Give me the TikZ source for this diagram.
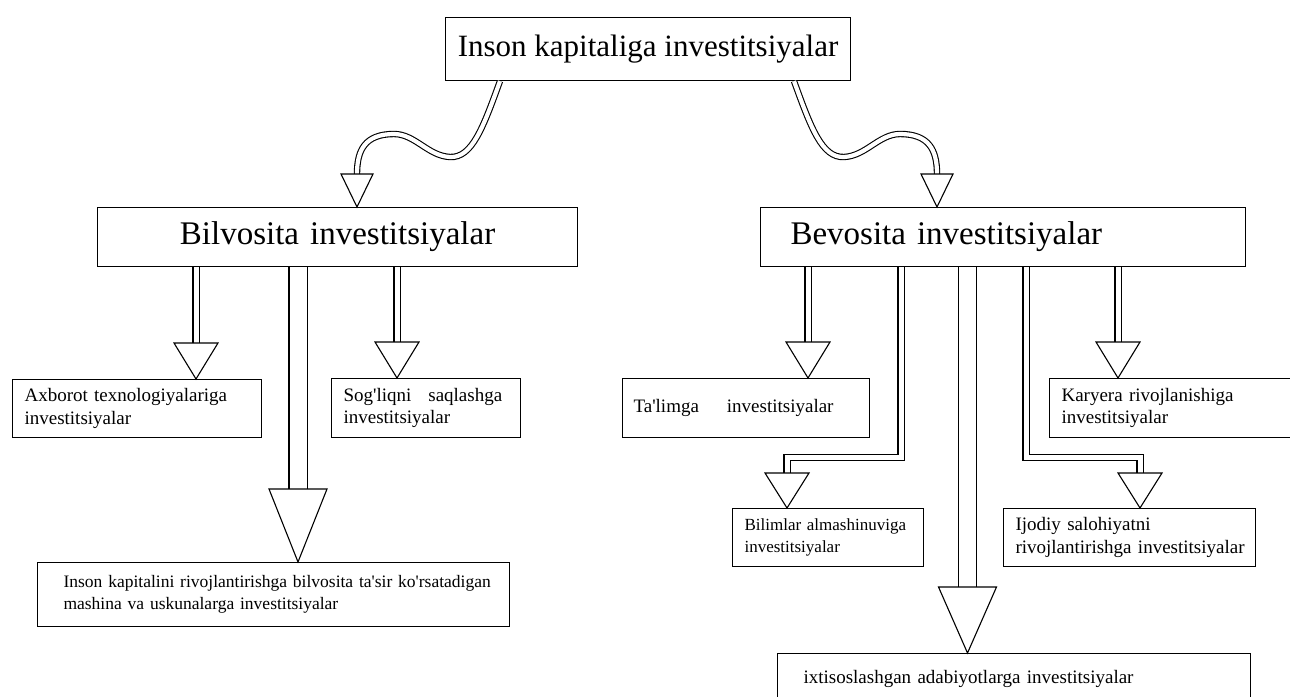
\documentclass[tikz,border=0pt]{standalone}
\usepackage{fontspec}
\setmainfont{Liberation Serif}[Ligatures=TeXOff]
\usetikzlibrary{calc}
\tikzset{
  box/.style={draw=black, line width=1.1pt, anchor=north west, inner ysep=0pt, inner xsep=12pt, align=left, font=\fontsize{19}{22.5}\selectfont},
  dbl/.style={draw=black, line width=1.1pt, double=white, double distance=#1, line join=miter},
  tri/.style={draw=black, fill=white, line width=1.1pt, line join=miter},
}
\newcommand{\head}[3]{\draw[tri] ($(#1)+(-#2,-#3)$) -- ($(#1)+(#2,-#3)$) -- (#1) -- cycle;}
\begin{document}
\begin{tikzpicture}[x=1pt,y=-1pt]
\useasboundingbox (0,0) rectangle (1290,696);
% boxes
\node[box, minimum width=405pt, minimum height=63pt, align=center, font=\fontsize{31}{36}\selectfont] (top) at (445,17) {Inson kapitaliga investitsiyalar};
\node[box, minimum width=480pt, minimum height=59pt, align=center, text width=456pt, font=\fontsize{33}{38}\selectfont] (bil) at (97,207) {Bilvosita investitsiyalar};
\node[box, minimum width=485pt, minimum height=59pt, inner xsep=30pt, text width=425pt, font=\fontsize{33}{38}\selectfont] (bev) at (760,207) {Bevosita investitsiyalar};
\node[box, minimum width=249pt, minimum height=58pt, text width=225pt] (axb) at (12,379) {\mbox{Axborot texnologiyalariga}\\\mbox{investitsiyalar}};
\node[box, minimum width=189pt, minimum height=59pt, text width=165pt] (sog) at (331,378) {\mbox{Sog'liqni\hspace{17pt}saqlashga}\\\mbox{investitsiyalar}};
\node[box, minimum width=472pt, minimum height=64pt, inner xsep=26pt, text width=420pt, font=\fontsize{17.5}{21.5}\selectfont] (mash) at (37,562) {\mbox{Inson kapitalini rivojlantirishga bilvosita ta'sir ko'rsatadigan}\\\mbox{mashina va uskunalarga investitsiyalar}};
\node[box, minimum width=247pt, minimum height=59pt, inner xsep=11pt, text width=225pt] (tal) at (622,378) {\mbox{Ta'limga\hspace{28pt}investitsiyalar}};
\node[box, minimum width=260pt, minimum height=59pt, text width=236pt] (kar) at (1049,378) {\mbox{Karyera rivojlanishiga}\\\mbox{investitsiyalar}};
\node[box, minimum width=191pt, minimum height=58pt, text width=167pt, font=\fontsize{17}{21.5}\selectfont] (bim) at (732,508) {\mbox{Bilimlar almashinuviga}\\\mbox{investitsiyalar}};
\node[box, minimum width=252pt, minimum height=58pt, text width=228pt] (ijo) at (1003,508) {\mbox{Ijodiy salohiyatni}\\\mbox{rivojlantirishga investitsiyalar}};
\node[box, minimum width=473pt, minimum height=50pt, inner xsep=26pt, text width=421pt] (ixt) at (777,653) {\mbox{ixtisoslashgan adabiyotlarga investitsiyalar}};
% tips
\coordinate (sL) at ($(top.south west)+(55,0)$);
\coordinate (eL) at ($(bil.north west)+(260,0)$);
\coordinate (sR) at ($(top.south west)+(349,0)$);
\coordinate (eR) at ($(bev.north west)+(177,0)$);
\coordinate (tA) at ($(axb.north west)+(184,0)$);
\coordinate (tM) at ($(mash.north west)+(261,0)$);
\coordinate (tS) at ($(sog.north west)+(66,0)$);
\coordinate (tT) at ($(tal.north west)+(186,0)$);
\coordinate (tB) at ($(bim.north west)+(55,0)$);
\coordinate (sB) at ($(bev.south west)+(141,0)$);
\coordinate (tX) at ($(ixt.north west)+(190.5,0)$);
\coordinate (tI) at ($(ijo.north west)+(137,0)$);
\coordinate (sI) at ($(bev.south west)+(266,0)$);
\coordinate (tK) at ($(kar.north west)+(69,0)$);
% curved arrows
\draw[dbl=4.2pt] (sL) .. controls (483,128) and (472,158) .. (450,157) .. controls (428,156) and (415,134) .. (394,134) .. controls (365,134) and (357,150) .. ($(eL)+(0,-33)$);
\head{eL}{16}{33}
\draw[dbl=4.2pt] (sR) .. controls (811,128) and (822,158) .. (844,157) .. controls (866,156) and (879,134) .. (900,134) .. controls (929,134) and (937,150) .. ($(eR)+(0,-33)$);
\head{eR}{16}{33}
% left arrows
\draw[dbl=5pt] (tA |- bil.south) -- ($(tA)+(0,-36)$);
\head{tA}{22}{36}
\draw[dbl=17pt] (tM |- bil.south) -- ($(tM)+(0,-73)$);
\head{tM}{29}{73}
\draw[dbl=5pt] (tS |- bil.south) -- ($(tS)+(0,-36)$);
\head{tS}{22}{36}
% right arrows
\draw[dbl=5pt] (tT |- bev.south) -- ($(tT)+(0,-36)$);
\head{tT}{22}{36}
\draw[dbl=5pt] (sB) |- ($(tB)+(0,-50.5)$) -- ($(tB)+(0,-35)$);
\head{tB}{22}{35}
\draw[dbl=17pt] (tX |- bev.south) -- ($(tX)+(0,-66)$);
\head{tX}{29}{66}
\draw[dbl=5pt] (sI) |- ($(tI)+(0,-50.5)$) -- ($(tI)+(0,-35)$);
\head{tI}{22}{35}
\draw[dbl=5pt] (tK |- bev.south) -- ($(tK)+(0,-36)$);
\head{tK}{22}{36}
\end{tikzpicture}
\end{document}
